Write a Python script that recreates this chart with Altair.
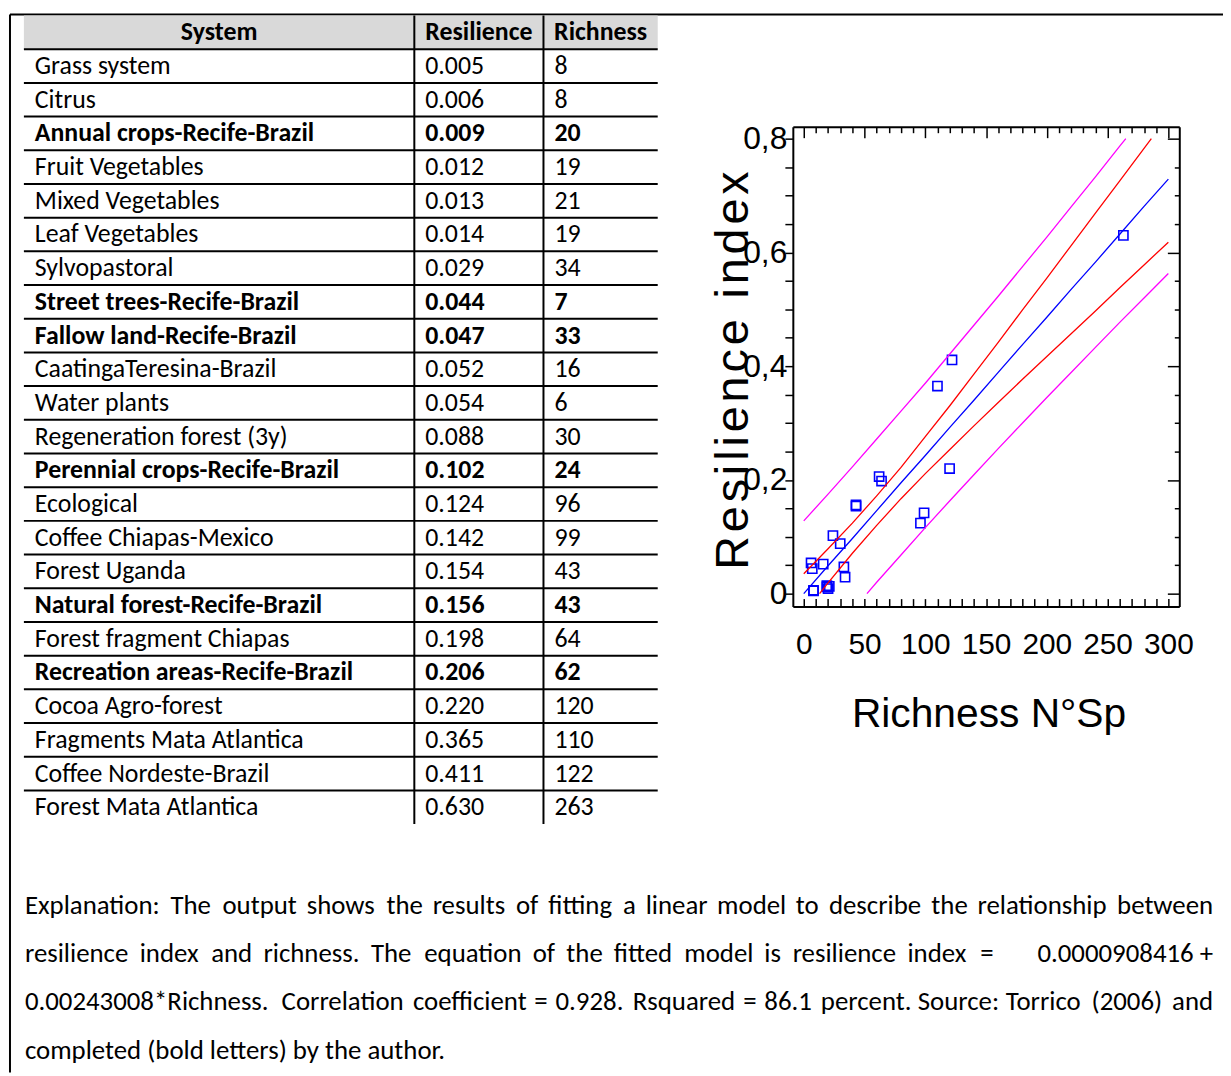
import altair as alt
import pandas as pd

# ---------------- data ----------------
systems = [
    "Grass system", "Citrus", "Annual crops-Recife-Brazil", "Fruit Vegetables",
    "Mixed Vegetables", "Leaf Vegetables", "Sylvopastoral", "Street trees-Recife-Brazil",
    "Fallow land-Recife-Brazil", "CaatingaTeresina-Brazil", "Water plants",
    "Regeneration forest (3y)", "Perennial crops-Recife-Brazil", "Ecological",
    "Coffee Chiapas-Mexico", "Forest Uganda", "Natural forest-Recife-Brazil",
    "Forest fragment Chiapas", "Recreation areas-Recife-Brazil", "Cocoa Agro-forest",
    "Fragments Mata Atlantica", "Coffee Nordeste-Brazil", "Forest Mata Atlantica",
]
resilience = [0.005, 0.006, 0.009, 0.012, 0.013, 0.014, 0.029, 0.044, 0.047, 0.052, 0.054,
              0.088, 0.102, 0.124, 0.142, 0.154, 0.156, 0.198, 0.206, 0.220, 0.365, 0.411, 0.630]
richness = [8, 8, 20, 19, 21, 19, 34, 7, 33, 16, 6, 30, 24, 96, 99, 43, 43, 64, 62, 120, 110, 122, 263]
headers = ["System", "Resilience", "Richness"]

# fitted line and limits
fit_x = [0, 20, 40, 60, 80, 100, 120, 140, 160, 180, 200, 220, 240, 260, 280, 300]
fit_y = [0.000, 0.049, 0.097, 0.146, 0.195, 0.243, 0.292, 0.340, 0.389, 0.438, 0.486, 0.535,
         0.583, 0.632, 0.681, 0.729]
conf_hi_x = [0, 20, 40, 60, 80, 100, 120, 140, 160, 180, 200, 220, 240, 260, 280, 286]
conf_hi_y = [0.035, 0.079, 0.124, 0.172, 0.222, 0.276, 0.330, 0.386, 0.442, 0.499, 0.555, 0.612,
             0.669, 0.726, 0.783, 0.800]
conf_lo_x = [13, 20, 40, 60, 80, 100, 120, 140, 160, 180, 200, 220, 240, 260, 280, 300]
conf_lo_y = [0.000, 0.019, 0.071, 0.120, 0.167, 0.211, 0.253, 0.295, 0.336, 0.377, 0.417, 0.457,
             0.497, 0.538, 0.578, 0.618]
pred_hi_x = [0, 20, 40, 60, 80, 100, 120, 140, 160, 180, 200, 220, 240, 260, 265]
pred_hi_y = [0.128, 0.175, 0.223, 0.272, 0.321, 0.370, 0.421, 0.472, 0.523, 0.575, 0.627, 0.680,
             0.733, 0.787, 0.800]
pred_lo_x = [52, 60, 80, 100, 120, 140, 160, 180, 200, 220, 240, 260, 280, 300]
pred_lo_y = [0.000, 0.020, 0.068, 0.116, 0.163, 0.209, 0.255, 0.300, 0.345, 0.389, 0.433, 0.477,
             0.520, 0.563]

x_label_values = [0, 50, 100, 150, 200, 250, 300]
x_tick_values = list(range(0, 301, 10))
y_tick_values = [round(0.05 * k, 2) for k in range(17)]
x_title = "Richness N°Sp"
HAIR = "\u200a"
y_title = HAIR.join("Resilience") + HAIR + " " + HAIR + HAIR.join("index")

expl_lines = [
    "Explanation: The output shows the results of fitting a linear model to describe the relationship between",
    "resilience index and richness. The equation of the fitted model is resilience index =",
    "0.00243008*Richness. Correlation coefficient = 0.928. Rsquared = 86.1 percent. Source: Torrico (2006) and",
    "completed (bold letters) by the author.",
]
expl_tails = ["", "0.0000908416 +", "", ""]

# ---------------- styles / layout ----------------
W, H = 1223, 1068
TFONT = "Carlito, Calibri, Lato, sans-serif"
NFONT = "'Liberation Sans', Arial, sans-serif"
TSIZE = 26
ESIZE = 27
TEXT_X0, TEXT_X1 = 17, 1213
justify_end = [TEXT_X1, 992, TEXT_X1, None]

# approximate advance widths (em) of the text font, used only to justify lines
_W = {}
_W.update(dict(zip("abcdefghijklmnopqrstuvwxyz",
                   [.50, .56, .46, .56, .52, .32, .50, .56, .24, .24, .51, .24, .84, .56, .56,
                    .56, .56, .37, .43, .35, .56, .52, .78, .50, .52, .45])))
_W.update(dict(zip("ABCDEFGHIJKLMNOPQRSTUVWXYZ",
                   [.66, .62, .68, .73, .56, .54, .72, .74, .28, .40, .65, .50, .88, .74, .78,
                    .60, .78, .62, .52, .58, .72, .66, 1.0, .64, .62, .60])))
_W.update({d: .58 for d in "0123456789"})
_W.update({".": .24, ",": .24, ":": .24, ";": .24, "(": .31, ")": .31, "*": .40,
           "=": .58, "+": .58, "-": .34})
WSCALE = 0.94


def text_width(s):
    return sum(_W.get(ch, .52) for ch in s) * ESIZE * WSCALE


# ---------------- frame of the page ----------------
one = pd.DataFrame({"a": [0]})
frame = alt.layer(
    alt.Chart(one).mark_rule(color="black", strokeWidth=2).encode(
        x=alt.value(2), y=alt.value(3), y2=alt.value(H)),
    alt.Chart(one).mark_rule(color="black", strokeWidth=2).encode(
        x=alt.value(2), x2=alt.value(W), y=alt.value(3)),
)

# ---------------- table ----------------
tx = alt.Scale(domain=[0, 1, 2, 3], range=[16, 409, 539, 654], nice=False, zero=False)
ty = alt.Scale(domain=[0, 23], range=[21, 801], nice=False, zero=False)

body_rows = []
for i, (s, r, n) in enumerate(zip(systems, resilience, richness)):
    b = "Recife" in s
    body_rows += [
        {"row": i + 1, "col": 0, "label": s, "bold": b},
        {"row": i + 1, "col": 1, "label": f"{r:.3f}", "bold": b},
        {"row": i + 1, "col": 2, "label": str(n), "bold": b},
    ]
body = pd.DataFrame(body_rows)
head = pd.DataFrame({"col": [j + 0.5 for j in range(len(headers))], "label": headers, "row": 0})
nrows = len(systems)
hsep = pd.DataFrame({"row": [k + 0.5 for k in range(nrows)], "c0": 0, "c1": len(headers)})
vsep = pd.DataFrame({"col": list(range(1, len(headers))), "r0": -0.5, "r1": nrows + 0.5})
hbg = pd.DataFrame({"c0": [0], "c1": [len(headers)], "r0": [-0.5], "r1": [0.5]})

table = alt.layer(
    alt.Chart(hbg).mark_rect(color="#D9D9D9").encode(
        x=alt.X("c0:Q", scale=tx, axis=None), x2="c1:Q",
        y=alt.Y("r0:Q", scale=ty, axis=None), y2="r1:Q"),
    alt.Chart(hsep).mark_rule(color="black", strokeWidth=2).encode(
        x=alt.X("c0:Q", scale=tx, axis=None), x2="c1:Q",
        y=alt.Y("row:Q", scale=ty, axis=None)),
    alt.Chart(vsep).mark_rule(color="black", strokeWidth=2).encode(
        x=alt.X("col:Q", scale=tx, axis=None),
        y=alt.Y("r0:Q", scale=ty, axis=None), y2="r1:Q"),
    alt.Chart(head).mark_text(font=TFONT, fontSize=TSIZE, fontWeight="bold", color="black",
                              align="center", baseline="middle").encode(
        x=alt.X("col:Q", scale=tx, axis=None),
        y=alt.Y("row:Q", scale=ty, axis=None), text="label:N"),
    alt.Chart(body).transform_filter("!datum.bold").mark_text(
        font=TFONT, fontSize=TSIZE, color="black", align="left", baseline="middle", dx=11).encode(
        x=alt.X("col:Q", scale=tx, axis=None),
        y=alt.Y("row:Q", scale=ty, axis=None), text="label:N"),
    alt.Chart(body).transform_filter("datum.bold").mark_text(
        font=TFONT, fontSize=TSIZE, fontWeight="bold", color="black", align="left",
        baseline="middle", dx=11).encode(
        x=alt.X("col:Q", scale=tx, axis=None),
        y=alt.Y("row:Q", scale=ty, axis=None), text="label:N"),
)

# ---------------- explanation (justified word by word) ----------------
pieces = []
for li, (line, x1) in enumerate(zip(expl_lines, justify_end)):
    words = line.split()
    if x1 is None or len(words) < 2:
        pieces.append({"line": li, "text": line, "px": TEXT_X0, "al": "left"})
        continue
    widths = [text_width(w) for w in words]
    gap = (x1 - TEXT_X0 - sum(widths)) / (len(words) - 1)
    x = TEXT_X0
    for wi, (w, ww) in enumerate(zip(words, widths)):
        if wi == len(words) - 1:
            pieces.append({"line": li, "text": w, "px": x1, "al": "right"})
        else:
            pieces.append({"line": li, "text": w, "px": x, "al": "left"})
        x += ww + gap
for li, tail in enumerate(expl_tails):
    if tail:
        pieces.append({"line": li, "text": tail, "px": TEXT_X1, "al": "right"})
piece_df = pd.DataFrame(pieces)

ex = alt.Scale(domain=[0, W], range=[0, W], nice=False, zero=False)
ey = alt.Scale(domain=[0, 3], range=[900, 1046], nice=False, zero=False)
explanation = alt.layer(*[
    alt.Chart(piece_df).transform_filter(f"datum.al == '{al}'").mark_text(
        font=TFONT, fontSize=ESIZE, color="black", align=al, baseline="middle").encode(
        x=alt.X("px:Q", scale=ex, axis=None),
        y=alt.Y("line:Q", scale=ey, axis=None), text="text:N")
    for al in ["left", "right"]
])

# ---------------- scatter plot ----------------
PX0, PX1, PY0, PY1 = 790, 1179, 599, 116
xsc = alt.Scale(domain=[-9, 309], range=[PX0, PX1], nice=False, zero=False)
ysc = alt.Scale(domain=[-0.0227, 0.821], range=[PY0, PY1], nice=False, zero=False)

ax_bottom = alt.Axis(
    orient="bottom", offset=PY0 - H, values=x_label_values, ticks=False, tickSize=0,
    domain=True, domainColor="black", domainWidth=2, grid=False,
    labelFont=NFONT, labelFontSize=30, labelColor="black", labelPadding=47,
    labelBaseline="alphabetic", labelFlush=False, labelOverlap=False,
    title=x_title, titleFont=NFONT, titleFontSize=41, titleFontWeight="normal",
    titleColor="black", titleX=987, titleY=121, titleAlign="center", titleBaseline="alphabetic",
)
ax_bottom_ticks = alt.Axis(
    orient="top", offset=-PY0, values=x_tick_values, ticks=True, tickSize=8, tickWidth=1.5,
    tickColor="black", domain=False, labels=False, grid=False, title=None,
)
ax_top_ticks = alt.Axis(
    orient="bottom", offset=PY1 - H, values=x_tick_values, ticks=True,
    tickSize={"condition": {"test": "datum.value % 50 === 0", "value": 11}, "value": 6},
    tickWidth=1.5, tickColor="black", domain=True, domainColor="black", domainWidth=2,
    labels=False, grid=False, title=None,
)
ax_left = alt.Axis(
    orient="left", offset=-PX0, values=y_tick_values, ticks=True, tickSize=8, tickWidth=1.5,
    tickColor="black", domain=True, domainColor="black", domainWidth=2, grid=False,
    labelExpr="datum.value == 0 ? '0' : (abs(datum.value*5 - round(datum.value*5)) < 0.001 ? replace(format(datum.value, '.1f'), '.', ',') : '')",
    labelFont=NFONT, labelFontSize=32, labelColor="black", labelPadding=-2,
    labelFlush=False, labelOverlap=False,
    title=y_title, titleFont=NFONT, titleFontSize=47, titleFontWeight="normal",
    titleColor="black", titleAngle=270, titleX=-46, titleY=361, titleAlign="center",
    titleBaseline="alphabetic",
)
ax_right_ticks = alt.Axis(
    orient="left", offset=-PX1, values=y_tick_values, ticks=True,
    tickSize={"condition": {"test": "abs(datum.value*5 - round(datum.value*5)) < 0.001", "value": 12}, "value": 5},
    tickWidth=1.5, tickColor="black", domain=True, domainColor="black", domainWidth=2,
    labels=False, grid=False, title=None,
)

pts = pd.DataFrame({"richness": richness, "resilience": resilience})


def line(xs, ys, color, xaxis=None, yaxis=None):
    df = pd.DataFrame({"x": xs, "y": ys})
    return alt.Chart(df).mark_line(color=color, strokeWidth=1.3).encode(
        x=alt.X("x:Q", scale=xsc, axis=xaxis),
        y=alt.Y("y:Q", scale=ysc, axis=yaxis),
    )


plot = alt.layer(
    alt.Chart(pts).mark_point(shape="square", filled=False, size=85, strokeWidth=1.6,
                              color="#0000FF", opacity=1).encode(
        x=alt.X("richness:Q", scale=xsc, axis=ax_bottom),
        y=alt.Y("resilience:Q", scale=ysc, axis=ax_left),
    ),
    line(fit_x, fit_y, "#0000FF", ax_bottom_ticks, ax_right_ticks),
    line(conf_hi_x, conf_hi_y, "#FF0000", ax_top_ticks, None),
    line(conf_lo_x, conf_lo_y, "#FF0000"),
    line(pred_hi_x, pred_hi_y, "#FF00FF"),
    line(pred_lo_x, pred_lo_y, "#FF00FF"),
).resolve_axis(x="independent", y="independent")

chart = alt.layer(frame, table, explanation, plot).resolve_scale(
    x="independent", y="independent"
).properties(
    width=W, height=H, padding=0, autosize=alt.AutoSizeParams(type="none"),
).configure_view(stroke=None)

chart.save("out.html", embed_options={"renderer": "svg", "actions": False})
